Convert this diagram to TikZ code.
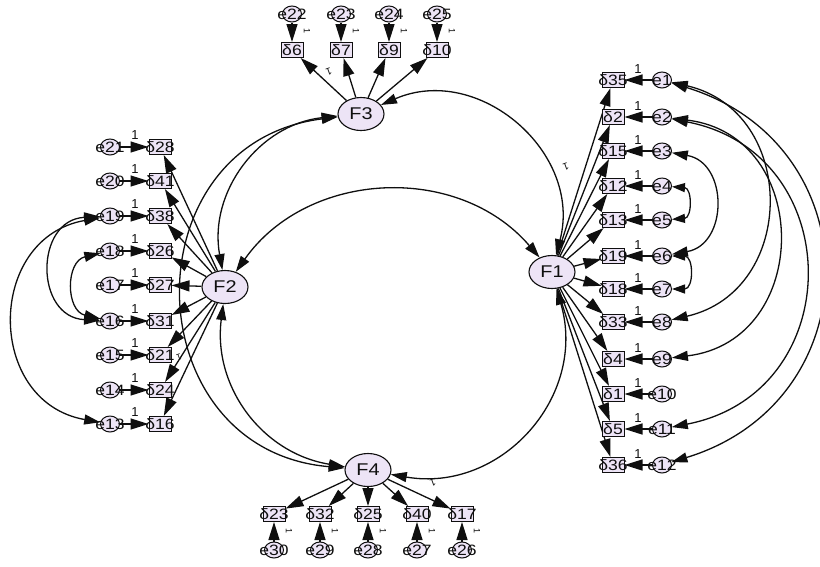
\documentclass[tikz,border=0pt]{standalone}
\usepackage{fontspec}
\setmainfont{Liberation Sans}
\newfontfamily\amos[FakeStretch=1.17]{Liberation Sans}
\usetikzlibrary{shapes.geometric,arrows.meta}
\definecolor{amosfill}{RGB}{237,228,246}
\definecolor{ink}{RGB}{15,15,15}
\pgfdeclarelayer{bg}
\pgfsetlayers{bg,main}
\newcommand\zc[1]{\makebox[0pt][c]{#1}}
\tikzset{
  errc/.style={ellipse,draw=ink,fill=amosfill,minimum width=19pt,minimum height=16pt,inner sep=0pt,line width=1pt,font=\amos\fontsize{15}{15}\selectfont,text=ink},
  obsb/.style={rectangle,draw=ink,fill=amosfill,minimum width=22pt,minimum height=15pt,inner sep=0pt,line width=1pt,font=\amos\fontsize{15}{15}\selectfont,text=ink},
  lat/.style={ellipse,draw=ink,fill=amosfill,minimum width=46pt,minimum height=33pt,inner sep=0pt,line width=1.1pt,font=\amos\fontsize{17}{17}\selectfont,text=ink},
  one/.style={font=\fontsize{13}{13}\selectfont,text=ink,inner sep=0pt},
  reg/.style={-{Triangle[length=18pt,width=11pt]},line width=1.3pt,draw=ink},
  cov/.style={{Triangle[length=16pt,width=10pt]}-{Triangle[length=16pt,width=10pt]},line width=1.3pt,draw=ink},
  covs/.style={{Triangle[length=13pt,width=9pt]}-{Triangle[length=13pt,width=9pt]},line width=1.3pt,draw=ink},
}
\begin{document}
\begin{tikzpicture}[x=1pt,y=1pt]
\useasboundingbox (0,0) rectangle (820,-566);
% latent factors
\node[lat] (F3) at (361,-114) {F3};
\node[lat] (F2) at (225,-287) {F2};
\node[lat] (F1) at (552,-272) {F1};
\node[lat] (F4) at (368,-470) {F4};
% right block (F1)
\foreach \d/\e/\y in {35/1/80,2/2/117,15/3/151,12/4/186,13/5/220,19/6/256,18/7/289,33/8/322,4/9/359,1/10/394,5/11/429,36/12/465}{
  \node[obsb] (b\d) at (613,-\y) {\zc{δ\d}};
  \node[errc] (e\e) at (662,-\y) {\zc{e\e}};
  \node[one] at (638,{-\y+11}) {1};
  \begin{pgfonlayer}{bg}
    \draw[reg] (e\e) -- (b\d);
    \draw[reg] (F1) -- (b\d);
  \end{pgfonlayer}
}
% left block (F2)
\foreach \d/\e/\y in {28/21/147,41/20/181,38/19/216,26/18/251,27/17/285,31/16/321,21/15/355,24/14/390,16/13/424}{
  \node[obsb] (b\d) at (160,-\y) {\zc{δ\d}};
  \node[errc] (e\e) at (110,-\y) {\zc{e\e}};
  \node[one] at (135,{-\y+12}) {1};
  \begin{pgfonlayer}{bg}
    \draw[reg] (e\e) -- (b\d);
    \draw[reg] (F2) -- (b\d);
  \end{pgfonlayer}
}
% top block (F3)
\foreach \d/\e/\x in {6/22/292,7/23/341,9/24/389,10/25/437}{
  \node[obsb] (b\d) at (\x,-50) {\zc{δ\d}};
  \node[errc] (e\e) at (\x,-14) {\zc{e\e}};
  \node[one,rotate=-90,font=\fontsize{9}{9}\selectfont] at ({\x+15},-31) {1};
  \begin{pgfonlayer}{bg}
    \draw[reg] (e\e) -- (b\d);
    \draw[reg] (F3) -- (b\d);
  \end{pgfonlayer}
}
% bottom block (F4)
\foreach \d/\e/\x in {23/30/274,32/29/320,25/28/368,40/27/417,17/26/462}{
  \node[obsb] (b\d) at (\x,-514) {\zc{δ\d}};
  \node[errc] (e\e) at (\x,-550) {\zc{e\e}};
  \node[one,rotate=-90,font=\fontsize{9}{9}\selectfont] at ({\x+15},-531) {1};
  \begin{pgfonlayer}{bg}
    \draw[reg] (e\e) -- (b\d);
    \draw[reg] (F4) -- (b\d);
  \end{pgfonlayer}
}
% fixed loading labels
\node[one,rotate=200,font=\fontsize{10}{10}\selectfont] (l3) at (329,-72) {1};
\node[one,rotate=200,font=\fontsize{10}{10}\selectfont] (l1) at (566,-167) {1};
\node[one,rotate=200,font=\fontsize{10}{10}\selectfont] (l4) at (433,-483) {1};
\node[one,rotate=200,font=\fontsize{9}{9}\selectfont] (l2) at (179,-357) {1};
\begin{pgfonlayer}{bg}
% factor covariances
\draw[cov] (F2) to[bend left=52,looseness=1.05] (F1);
\draw[cov] (F3) to[bend left=64,looseness=1.18] (F1);
\draw[cov] (F2) to[bend left=47,looseness=1.05] (F3);
\draw[cov] (F3) to[bend right=84,looseness=1.54] (F4);
\draw[cov] (F2) to[bend right=44,looseness=1.05] (F4);
\draw[cov] (F1) to[bend left=58,looseness=1.15] (F4);
% error covariances right
\draw[cov] (e1) to[bend left=73,looseness=1.42] (e12);
\draw[cov] (e1) to[bend left=77,looseness=1.40] (e8);
\draw[cov] (e2) to[bend left=83,looseness=1.52] (e9);
\draw[cov] (e2) to[bend left=79,looseness=1.50] (e11);
\draw[cov] (e3) to[bend left=80,looseness=1.45] (e6);
\draw[covs] (e4) to[bend left=86,looseness=1.6] (e5);
\draw[covs] (e6) to[bend left=90,looseness=1.7] (e7);
% error covariances left
\draw[cov] (e19) to[bend right=80,looseness=1.46] (e13);
\draw[cov] (e19) to[bend right=87,looseness=1.62] (e16);
\draw[cov] (e18) to[bend right=77,looseness=1.4] (e16);
\end{pgfonlayer}
\end{tikzpicture}
\end{document}
